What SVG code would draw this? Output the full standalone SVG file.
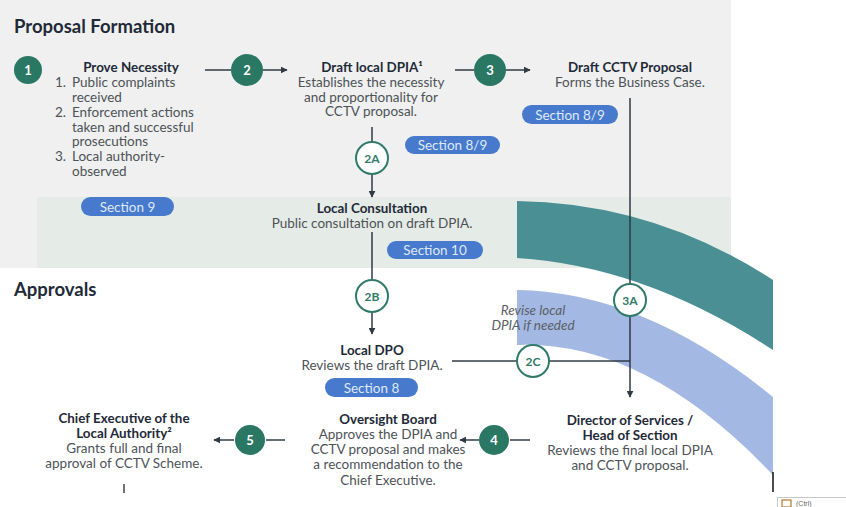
<svg xmlns="http://www.w3.org/2000/svg" width="846" height="507" viewBox="0 0 846 507">
<defs>
<style>
.h{font-family:Lato,"Noto Sans",sans-serif;font-weight:700;font-size:13.4px;fill:#1f2a38;text-anchor:middle}
.b{font-family:Lato,"Noto Sans",sans-serif;font-size:13.5px;fill:#4d5257;text-anchor:middle}
.l{font-family:Lato,"Noto Sans",sans-serif;font-size:13.5px;fill:#4d5257}
.it{font-family:Lato,"Noto Sans",sans-serif;font-style:italic;font-size:13.5px;fill:#5a6066;text-anchor:middle}
.t{font-family:Lato,"Noto Sans",sans-serif;font-weight:700;font-size:18.5px;fill:#1f2a38}
.pill{fill:#4779cc}
.pt{font-family:Lato,"Noto Sans",sans-serif;font-size:13.5px;fill:#dfe9fb;text-anchor:middle}
.fc{fill:#2a7864}
.fn{font-family:Lato,"Noto Sans",sans-serif;font-weight:700;font-size:13px;fill:#ffffff;text-anchor:middle}
.oc{fill:#ffffff;stroke:#2f7a68;stroke-width:2}
.on{font-family:Lato,"Noto Sans",sans-serif;font-weight:700;font-size:12px;fill:#2f7a68;text-anchor:middle}
.c{stroke:#2f3a44;stroke-width:1.5;fill:none}
</style>
<marker id="ah" viewBox="0 0 10 10" refX="9" refY="5" markerWidth="7" markerHeight="7" orient="auto-start-reverse" markerUnits="userSpaceOnUse">
<path d="M0,0 L10,5 L0,10 z" fill="#2f3a44"/>
</marker>
</defs>

<g id="background">
<rect x="0" y="0" width="731" height="268" fill="#eff0ef"/>
<rect x="37" y="197" width="694" height="71" fill="#e5ebe6"/>
<path d="M517,201 Q655,203 773,280 L773,350 Q645,266 517,258 Z" fill="#4a8f94"/>
<path d="M517,290 Q645,292 773,397 L773,475 Q645,340 517,345 Z" fill="#a3b8e3"/>
</g>

<g id="headings">
<text class="t" x="14" y="33">Proposal Formation</text>
<text class="t" x="14" y="296">Approvals</text>
</g>

<g id="connectors">
<line class="c" x1="205" y1="70" x2="231" y2="70"/>
<line class="c" x1="263" y1="70" x2="287" y2="70" marker-end="url(#ah)"/>
<line class="c" x1="455" y1="70" x2="474" y2="70"/>
<line class="c" x1="506" y1="70" x2="530" y2="70" marker-end="url(#ah)"/>
<line class="c" x1="372" y1="127" x2="372" y2="142"/>
<line class="c" x1="372" y1="174" x2="372" y2="197" marker-end="url(#ah)"/>
<line class="c" x1="372" y1="232" x2="372" y2="280"/>
<line class="c" x1="372" y1="312" x2="372" y2="334" marker-end="url(#ah)"/>
<line class="c" x1="630" y1="98" x2="630" y2="284"/>
<line class="c" x1="630" y1="316" x2="630" y2="397" marker-end="url(#ah)"/>
<line class="c" x1="452" y1="361" x2="517" y2="361"/>
<line class="c" x1="549" y1="361" x2="630" y2="361"/>
<line class="c" x1="530" y1="440" x2="510" y2="440"/>
<line class="c" x1="479" y1="440" x2="460" y2="440" marker-end="url(#ah)"/>
<line class="c" x1="285" y1="440" x2="266" y2="440"/>
<line class="c" x1="234" y1="440" x2="214" y2="440" marker-end="url(#ah)"/>
</g>

<g id="n1">
<circle class="fc" cx="28" cy="70" r="14"/>
<text class="fn" x="28" y="74.5">1</text>
<text class="h" x="131" y="72">Prove Necessity</text>
<text class="l" x="55" y="87">1.</text><text class="l" x="72" y="87">Public complaints</text>
<text class="l" x="72" y="101.5">received</text>
<text class="l" x="55" y="117">2.</text><text class="l" x="72" y="117">Enforcement actions</text>
<text class="l" x="72" y="131.5">taken and successful</text>
<text class="l" x="72" y="146">prosecutions</text>
<text class="l" x="55" y="161">3.</text><text class="l" x="72" y="161">Local authority-</text>
<text class="l" x="72" y="175.5">observed</text>
<rect class="pill" x="81" y="197" width="93" height="19" rx="9.5"/>
<text class="pt" x="127.5" y="211.5">Section 9</text>
</g>

<g id="n2">
<circle class="fc" cx="247" cy="70" r="16"/>
<text class="fn" x="247" y="74.5">2</text>
<text class="h" x="372" y="72">Draft local DPIA¹</text>
<text class="b" x="371" y="87">Establishes the necessity</text>
<text class="b" x="371" y="101.5">and proportionality for</text>
<text class="b" x="371" y="116">CCTV proposal.</text>
<rect class="pill" x="405" y="136" width="95" height="18" rx="9"/>
<text class="pt" x="452.5" y="150">Section 8/9</text>
</g>

<g id="n3">
<circle class="fc" cx="490" cy="70" r="16"/>
<text class="fn" x="490" y="74.5">3</text>
<text class="h" x="630" y="72">Draft CCTV Proposal</text>
<text class="b" x="630" y="87">Forms the Business Case.</text>
<rect class="pill" x="522" y="105" width="96" height="19" rx="9.5"/>
<text class="pt" x="570" y="119.5">Section 8/9</text>
</g>

<g id="n2a">
<circle class="oc" cx="372" cy="158" r="16"/>
<text class="on" x="372" y="162.5">2A</text>
</g>

<g id="n-consultation">
<text class="h" x="372" y="213">Local Consultation</text>
<text class="b" x="372" y="228">Public consultation on draft DPIA.</text>
<rect class="pill" x="387" y="241" width="96" height="18" rx="9"/>
<text class="pt" x="435" y="255">Section 10</text>
</g>

<g id="n2b">
<circle class="oc" cx="372" cy="296" r="16"/>
<text class="on" x="372" y="300.5">2B</text>
</g>

<g id="n-dpo">
<text class="h" x="372" y="355">Local DPO</text>
<text class="b" x="372" y="370">Reviews the draft DPIA.</text>
<rect class="pill" x="325" y="378" width="93" height="19" rx="9.5"/>
<text class="pt" x="371.5" y="392.5">Section 8</text>
</g>

<g id="n3a">
<circle class="oc" cx="630" cy="300" r="16"/>
<text class="on" x="630" y="304.5">3A</text>
</g>

<g id="n2c">
<text class="it" x="533" y="315">Revise local</text>
<text class="it" x="533" y="330">DPIA if needed</text>
<circle class="oc" cx="533" cy="361" r="16"/>
<text class="on" x="533" y="365.5">2C</text>
</g>

<g id="n-director">
<text class="h" x="630" y="425">Director of Services /</text>
<text class="h" x="630" y="440">Head of Section</text>
<text class="b" x="630" y="455">Reviews the final local DPIA</text>
<text class="b" x="630" y="470">and CCTV proposal.</text>
</g>

<g id="n4">
<circle class="fc" cx="494" cy="440" r="15"/>
<text class="fn" x="494" y="444.5">4</text>
</g>

<g id="n-oversight">
<text class="h" x="388" y="424">Oversight Board</text>
<text class="b" x="388" y="439">Approves the DPIA and</text>
<text class="b" x="388" y="454">CCTV proposal and makes</text>
<text class="b" x="388" y="469">a recommendation to the</text>
<text class="b" x="388" y="485">Chief Executive.</text>
</g>

<g id="n5">
<circle class="fc" cx="250" cy="440" r="15"/>
<text class="fn" x="250" y="444.5">5</text>
</g>

<g id="n-chief">
<text class="h" x="124" y="423">Chief Executive of the</text>
<text class="h" x="124" y="438">Local Authority²</text>
<text class="b" x="124" y="453">Grants full and final</text>
<text class="b" x="124" y="468">approval of CCTV Scheme.</text>
<line x1="124" y1="484" x2="124" y2="493" stroke="#444" stroke-width="1.5"/>
</g>

<g id="artifacts">
<line x1="773" y1="472" x2="773" y2="492" stroke="#111" stroke-width="1.5"/>
<rect x="777.5" y="497.5" width="75" height="14" fill="#fff" stroke="#c8c8c8"/>
<rect x="782" y="500" width="9" height="7" fill="none" stroke="#b5782a" stroke-width="1.2"/>
<text x="796" y="505.5" font-family="Liberation Sans,sans-serif" font-size="7" fill="#666">(Ctrl)</text>
</g>
</svg>
